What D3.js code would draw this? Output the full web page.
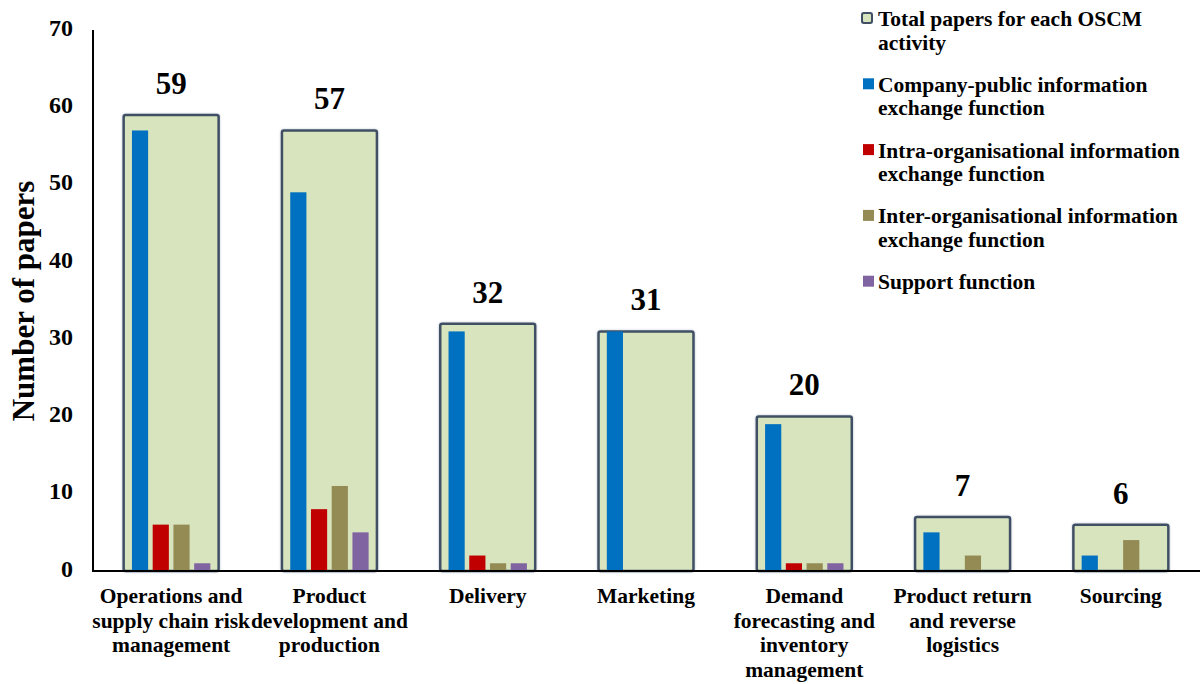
<!DOCTYPE html>
<html>
<head>
<meta charset="utf-8">
<script src="https://cdn.jsdelivr.net/npm/d3@7"></script>
</head>
<body style="margin:0;padding:0;background:#fff">
<svg id="chart" width="1200" height="684" style="display:block"></svg>
<script>
// OSCM activities (x axis), each label split into lines
const categories = [
  "Operations and supply chain risk management",
  "Product development and production",
  "Delivery",
  "Marketing",
  "Demand forecasting and inventory management",
  "Product return and reverse logistics",
  "Sourcing"
];
const categoryLines = [
  ["Operations and", "supply chain risk", "management"],
  ["Product", "development and", "production"],
  ["Delivery"],
  ["Marketing"],
  ["Demand", "forecasting and", "inventory", "management"],
  ["Product return", "and reverse", "logistics"],
  ["Sourcing"]
];

// Total papers per activity
const totals = [59, 57, 32, 31, 20, 7, 6];

// Papers per information exchange function
const companyPublic = [57, 49, 31, 31, 19, 5, 2];
const intraOrg      = [6, 8, 2, 0, 1, 0, 0];
const interOrg      = [6, 11, 1, 0, 1, 2, 4];
const support       = [1, 5, 1, 0, 1, 0, 0];

const seriesNames = [
  "Company-public information exchange function",
  "Intra-organisational information exchange function",
  "Inter-organisational information exchange function",
  "Support function"
];
const seriesColors = ["#0070c0", "#c00000", "#948a54", "#8064a2"];
const seriesValues = [companyPublic, intraOrg, interOrg, support];

const legendLabels = [
  ["Total papers for each OSCM", "activity"],
  ["Company-public information", "exchange function"],
  ["Intra-organisational information", "exchange function"],
  ["Inter-organisational information", "exchange function"],
  ["Support function"]
];

const yTicks = [0, 10, 20, 30, 40, 50, 60, 70];

const FONT = "Liberation Serif";

const svg = d3.select("#chart");

const x = d3.scaleBand()
  .domain(categories)
  .range([92, 1200])
  .paddingInner(0.4)
  .paddingOuter(0.2);

const y = d3.scaleLinear().domain([0, 70]).range([571, 30]);

// inner grouping of the four function bars inside each total box
const sub = d3.scaleBand()
  .domain(d3.range(seriesNames.length))
  .range([0, x.bandwidth()])
  .paddingInner(0.22)
  .paddingOuter(0.4);

const defs = svg.append("defs");
const f = defs.append("filter").attr("id", "glow").attr("x", "-10%").attr("y", "-10%").attr("width", "120%").attr("height", "120%");
f.append("feGaussianBlur").attr("in", "SourceAlpha").attr("stdDeviation", 1.2).attr("result", "b");
f.append("feFlood").attr("flood-color", "#8a9ab0").attr("flood-opacity", 0.6);
f.append("feComposite").attr("in2", "b").attr("operator", "in").attr("result", "s");
const m = f.append("feMerge");
m.append("feMergeNode").attr("in", "s");
m.append("feMergeNode").attr("in", "SourceGraphic");

// total boxes
svg.append("g").selectAll("rect")
  .data(categories)
  .join("rect")
  .attr("x", d => x(d))
  .attr("y", (d, i) => y(totals[i]))
  .attr("width", x.bandwidth())
  .attr("height", (d, i) => y(0) - y(totals[i]))
  .attr("rx", 2)
  .attr("fill", "#d7e4bd")
  .attr("stroke", "#3f4f63")
  .attr("stroke-width", 2.5)
  .attr("filter", "url(#glow)");

// function bars
seriesValues.forEach((vals, s) => {
  svg.append("g").selectAll("rect")
    .data(categories)
    .join("rect")
    .attr("x", d => x(d) + sub(s))
    .attr("y", (d, i) => y(vals[i]))
    .attr("width", sub.bandwidth())
    .attr("height", (d, i) => y(0) - y(vals[i]))
    .attr("fill", seriesColors[s]);
});

// total value labels
svg.append("g").selectAll("text")
  .data(categories)
  .join("text")
  .attr("x", d => x(d) + x.bandwidth() / 2)
  .attr("y", (d, i) => y(totals[i]) - 21)
  .attr("text-anchor", "middle")
  .attr("font-size", 31)
  .text((d, i) => totals[i]);

// axes lines
svg.append("line").attr("x1", 93).attr("x2", 93).attr("y1", y(70)).attr("y2", y(0) + 1)
  .attr("stroke", "#000").attr("stroke-width", 2);
svg.append("line").attr("x1", 92).attr("x2", 1200).attr("y1", y(0)).attr("y2", y(0))
  .attr("stroke", "#000").attr("stroke-width", 2);

// y tick labels
const yAxis = d3.axisLeft(y).tickValues(yTicks).tickSize(0).tickPadding(20);
const gy = svg.append("g").attr("transform", "translate(93,0)").call(yAxis);
gy.select(".domain").remove();
gy.selectAll("text").attr("font-size", 24).attr("dy", "0.22em");

// y title
svg.append("text")
  .attr("transform", "translate(34,301) rotate(-90)")
  .attr("text-anchor", "middle")
  .attr("font-size", 31)
  .text("Number of papers");

// category labels
const gx = svg.append("g");
categories.forEach((c, i) => {
  const cx = x(c) + x.bandwidth() / 2;
  const t = gx.append("text")
    .attr("x", cx)
    .attr("y", 603)
    .attr("font-size", 21.5)
    .attr("text-anchor", "middle");
  categoryLines[i].forEach((ln, j) => {
    t.append("tspan").attr("x", cx).attr("dy", j === 0 ? 0 : 24.5).text(ln);
  });
});

// legend
const lg = svg.append("g");
const legendColors = ["#d7e4bd"].concat(seriesColors);
legendLabels.forEach((lines, i) => {
  const base = 26 + i * 65.8;
  if (i === 0) {
    lg.append("rect").attr("x", 862).attr("y", base - 13).attr("width", 10).attr("height", 10)
      .attr("rx", 2).attr("fill", legendColors[i]).attr("stroke", "#3f4f63").attr("stroke-width", 2)
      .attr("filter", "url(#glow)");
  } else {
    lg.append("rect").attr("x", 863).attr("y", base - 13.5).attr("width", 11).attr("height", 11)
      .attr("fill", legendColors[i]);
  }
  const t = lg.append("text").attr("x", 878).attr("y", base).attr("font-size", 21.5);
  lines.forEach((ln, j) => {
    t.append("tspan").attr("x", 878).attr("dy", j === 0 ? 0 : 23.5).text(ln);
  });
});

// typeface for every label
svg.selectAll("text, tspan")
  .attr("font-family", FONT)
  .attr("font-weight", "bold")
  .attr("fill", "#000");
</script>
</body>
</html>
